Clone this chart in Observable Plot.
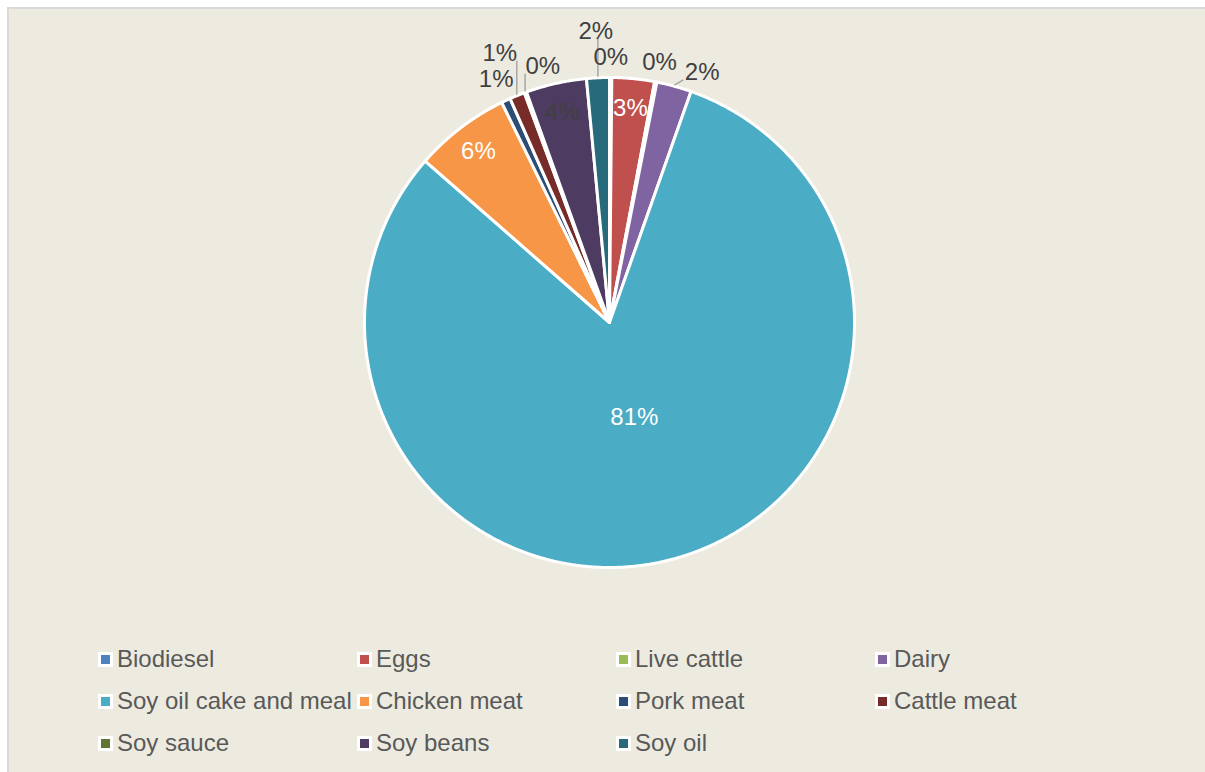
<!DOCTYPE html>
<html>
<head>
<meta charset="utf-8">
<script src="https://cdn.jsdelivr.net/npm/d3@7"></script>
<script src="https://cdn.jsdelivr.net/npm/@observablehq/plot@0.6"></script>
<style>
  html, body { margin: 0; padding: 0; background: #ffffff; width: 1205px; height: 772px; overflow: hidden; }
  #frame { position: absolute; left: 7px; top: 7px; width: 1210px; height: 780px;
           background: #EDEBE0; border-left: 2px solid #d9d9d9; border-top: 2px solid #d9d9d9; }
  #chart { position: absolute; left: 0; top: 0; }
  #legend { position: absolute; left: 0; top: 638px; font-family: "Liberation Sans", Arial, sans-serif;
            font-size: 24px; color: #595959; }
  .row { position: relative; height: 42px; }
  .item { position: absolute; top: 0; height: 42px; display: flex; align-items: center; white-space: nowrap; }
  .sw { width: 9px; height: 9px; border: 3px solid #ffffff; margin-right: 4px; flex: none; }
</style>
</head>
<body>
<div id="frame"></div>
<div id="chart"></div>
<div id="legend"></div>
<script>
// ---- data ----
const names = ["Biodiesel", "Eggs", "Live cattle", "Dairy", "Soy oil cake and meal", "Chicken meat",
               "Pork meat", "Cattle meat", "Soy sauce", "Soy beans", "Soy oil"];
const shares = [0.15, 2.8, 0.15, 2.3, 81.05, 6.3, 0.6, 1.0, 0.15, 4.0, 1.5];
const colors = ["#4F81BD", "#C0504D", "#9BBB59", "#8064A2", "#4BACC6", "#F79646",
                "#2C4D75", "#772C2A", "#5F7530", "#4D3B62", "#276A7C"];

// ---- layout ----
const W = 1205, H = 630, CX = 609, CY = 322, RPX = 245;
const FONT = "Liberation Sans, Arial, sans-serif";
const FS = 24;
const darkInside = new Set(["Soy beans"]);
const legendCols = [98, 357, 616, 875];

const total = d3.sum(shares);
let cum = 0;
const slices = names.map((name, i) => {
  const a0 = cum / total * 2 * Math.PI;
  cum += shares[i];
  const a1 = cum / total * 2 * Math.PI;
  return {name, share: shares[i] / total, a0, a1, mid: (a0 + a1) / 2,
          label: Math.round(shares[i] / total * 100) + "%"};
});

// slice polygons in data units (radius = 1), angle clockwise from north
const poly = [];
for (const s of slices) {
  const n = Math.max(2, Math.ceil((s.a1 - s.a0) / (Math.PI / 720)));
  poly.push({name: s.name, x: 0, y: 0});
  for (let k = 0; k <= n; k++) {
    const a = s.a0 + (s.a1 - s.a0) * k / n;
    poly.push({name: s.name, x: Math.sin(a), y: Math.cos(a)});
  }
}

// labels: inside for big slices, outside (collision-avoided) for small ones
const insideLabels = [], outsideLabels = [], leaders = [];
const placed = [];
const hw = 21 / RPX, hh = 13 / RPX;
const boxFree = (x, y) => {
  if (placed.some(p => Math.abs(p.x - x) < 2 * hw && Math.abs(p.y - y) < 2 * hh)) return false;
  const nx = Math.max(x - hw, Math.min(0, x + hw));
  const ny = Math.max(y - hh, Math.min(0, y + hh));
  return Math.hypot(nx, ny) > 1 + 2 / RPX;
};
for (const s of slices) {
  if (s.share >= 0.025) {
    const r = s.share > 0.5 ? 0.4 : 0.88;
    insideLabels.push({...s, x: r * Math.sin(s.mid), y: r * Math.cos(s.mid),
                       dark: darkInside.has(s.name)});
  } else {
    const r0 = 1 + 20 / RPX;
    let best = null;
    for (let dr = 0; dr <= 80; dr += 1) {
      for (let dd = -30; dd <= 30; dd += 0.5) {
        const r = r0 + dr / RPX, a = s.mid + dd * Math.PI / 180;
        const cost = dr + Math.abs(dd * Math.PI / 180) * r * RPX;
        if (best && cost >= best.cost) continue;
        const x = r * Math.sin(a), y = r * Math.cos(a);
        if (boxFree(x, y)) best = {x, y, cost};
      }
    }
    const p = {...s, x: best.x, y: best.y};
    placed.push(p);
    outsideLabels.push(p);
    if (best.cost > 3) {
      const ax = (1 + 1 / RPX) * Math.sin(s.mid), ay = (1 + 1 / RPX) * Math.cos(s.mid);
      const bx = Math.max(p.x - hw * 0.9, Math.min(ax, p.x + hw * 0.9));
      const by = Math.max(p.y - hh * 0.6, Math.min(ay, p.y + hh * 0.6));
      if (Math.hypot(bx - ax, by - ay) > 6 / RPX) leaders.push({x1: ax, y1: ay, x2: bx, y2: by});
    }
  }
}

const chart = Plot.plot({
  width: W, height: H,
  margin: 0,
  style: {background: "transparent", overflow: "visible"},
  x: {domain: [-CX / RPX, (W - CX) / RPX], range: [0, W], axis: null},
  y: {domain: [-(H - CY) / RPX, CY / RPX], range: [H, 0], axis: null},
  color: {domain: names, range: colors},
  marks: [
    Plot.line(poly, {x: "x", y: "y", z: "name", fill: "name", stroke: "#ffffff",
                     strokeWidth: 3, strokeLinejoin: "round", curve: "linear-closed"}),
    Plot.link(leaders, {x1: "x1", y1: "y1", x2: "x2", y2: "y2", stroke: "#a6a6a6", strokeWidth: 1.5}),
    Plot.text(insideLabels.filter(d => !d.dark), {x: "x", y: "y", text: "label", fill: "#ffffff",
              fontSize: FS, fontFamily: FONT}),
    Plot.text(insideLabels.filter(d => d.dark), {x: "x", y: "y", text: "label", fill: "#404040",
              fontSize: FS, fontFamily: FONT}),
    Plot.text(outsideLabels, {x: "x", y: "y", text: "label", fill: "#404040",
              fontSize: FS, fontFamily: FONT})
  ]
});
document.getElementById("chart").appendChild(chart);

// legend (HTML, below the SVG)
const legend = document.getElementById("legend");
for (let r = 0; r < Math.ceil(names.length / 4); r++) {
  const row = document.createElement("div");
  row.className = "row";
  for (let c = 0; c < 4; c++) {
    const i = r * 4 + c;
    if (i >= names.length) break;
    const item = document.createElement("div");
    item.className = "item";
    item.style.left = legendCols[c] + "px";
    const sw = document.createElement("span");
    sw.className = "sw";
    sw.style.background = colors[i];
    item.appendChild(sw);
    item.appendChild(document.createTextNode(names[i]));
    row.appendChild(item);
  }
  legend.appendChild(row);
}
</script>
</body>
</html>
